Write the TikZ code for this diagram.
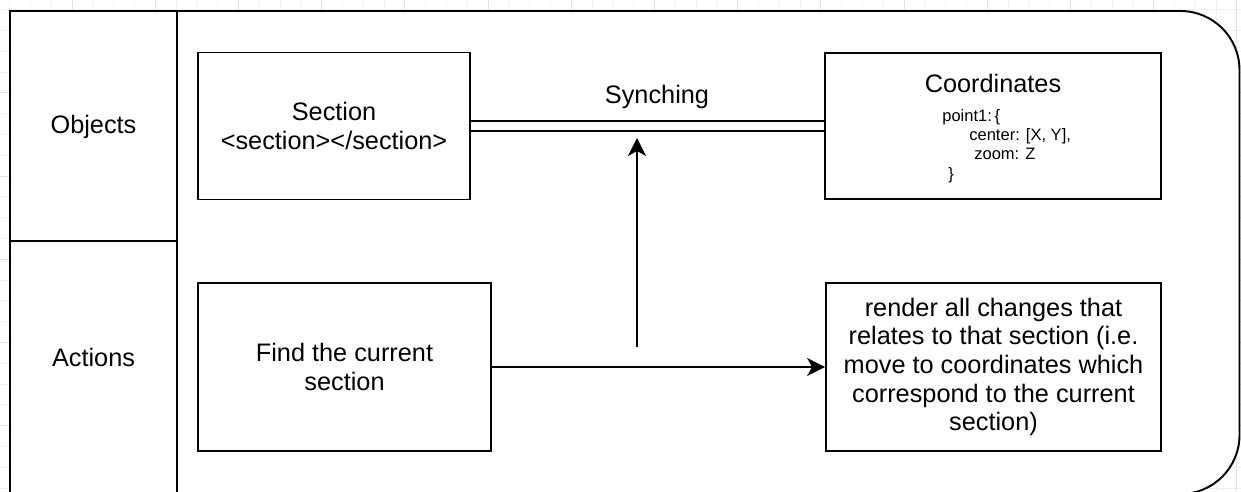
\documentclass[tikz,border=0pt]{standalone}
\usepackage{fontspec}
\setmainfont{Liberation Sans}
\usepackage{tikz}
\usetikzlibrary{arrows.meta,positioning}
\definecolor{gridminor}{RGB}{240,240,240}
\definecolor{gridmajor}{RGB}{226,226,226}
\tikzstyle{box} = [rectangle, draw, line width=1.1pt, fill=white, align=center]
\tikzstyle{lane} = [line width=1.1pt]
\tikzstyle{arrow} = [line width=1.1pt, -{Stealth[length=0.36cm, width=0.36cm, inset=0.1cm]}]
\tikzstyle{sync} = [line width=1.1pt, double, double distance=0.15cm]
\newcommand{\bigtext}{\fontsize{14.4}{16.3}\selectfont}
\newcommand{\smalltext}{\fontsize{9.4}{11}\selectfont}

\begin{document}
\begin{tikzpicture}[x=0.02cm, y=-0.02cm]
    \useasboundingbox (0,0) rectangle (1241,491);

    % Background grid
    \foreach \gx in {9.5,30.3,...,1241} \draw[gridminor, line width=0.4pt] (\gx,0) -- (\gx,491);
    \foreach \gy in {9.5,30.3,...,491} \draw[gridminor, line width=0.4pt] (0,\gy) -- (1241,\gy);
    \foreach \gx in {71.9,155.1,...,1241} \draw[gridmajor, line width=0.4pt] (\gx,0) -- (\gx,491);
    \foreach \gy in {92.7,175.9,...,491} \draw[gridmajor, line width=0.4pt] (0,\gy) -- (1241,\gy);

    % Swimlane
    \fill[white] (10,11) rectangle (700,496);
    \fill[white, rounded corners=1.18cm] (600,11) rectangle (1239.5,494);
    \draw[lane] (10,496) -- (10,11) -- (700,11);
    \draw[lane, rounded corners=1.18cm] (600,11) -- (1239.5,11) -- (1239.5,494) -- (600,494);
    \draw[lane] (177,11) -- (177,496);
    \draw[lane] (10,241) -- (177,241);
    \node[font=\bigtext] (objects) at (93.5,127) {Objects};
    \node[font=\bigtext] (actions) at (93.5,357) {Actions};

    % Objects
    \node[box, font=\bigtext, minimum width=5.44cm, minimum height=2.94cm] (section) at (334,126) {Section\\<section></section>};
    \node[box, minimum width=6.72cm, minimum height=2.92cm] (coords) at (993,126) {};
    \node[font=\bigtext] (coordstitle) at (993,83) {Coordinates};
    \node[font=\smalltext, align=left, anchor=west, inner sep=0pt] (coordspoint) at (942,146)
        {point1:\,\{\\\hspace{0.54cm}center: [X, Y],\\\hspace{0.64cm}zoom: Z\\\hspace{0.12cm}\}};

    % Actions
    \node[box, font=\bigtext, minimum width=5.86cm, minimum height=3.36cm] (find) at (344.5,367) {Find the current\\section};
    \node[box, font=\bigtext, minimum width=6.70cm, minimum height=3.36cm] (render) at (993.5,367)
        {render all changes that\\relates to that section (i.e.\\move to coordinates which\\correspond to the current\\section)};

    % Connectors
    \draw[sync] (section.east) -- (coords.west);
    \node[font=\bigtext] (synclabel) at (657,97) {Synching};
    \coordinate (trigger) at (637,347);
    \coordinate (synctip) at (637,138);
    \draw[arrow] (trigger) -- (synctip);
    \draw[arrow] (find.east) -- (render.west);
\end{tikzpicture}
\end{document}
